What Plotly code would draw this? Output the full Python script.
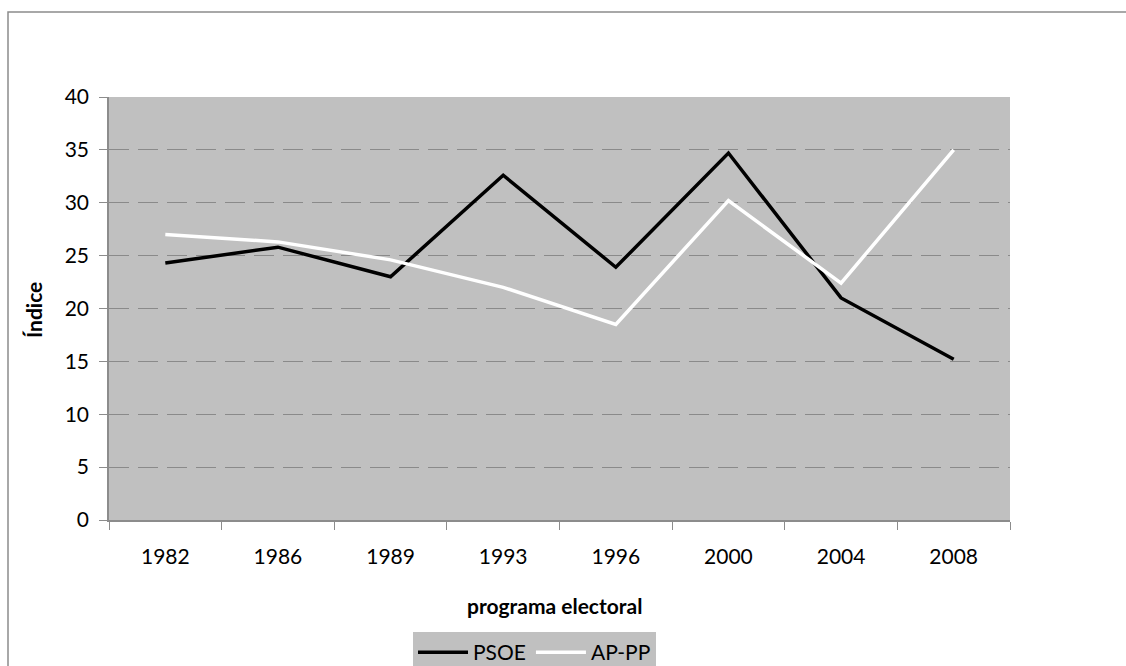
import plotly.graph_objects as go

years = ["1982", "1986", "1989", "1993", "1996", "2000", "2004", "2008"]
psoe = [24.3, 25.8, 23.0, 32.6, 23.9, 34.7, 21.0, 15.2]
ap_pp = [27.0, 26.3, 24.6, 22.0, 18.5, 30.2, 22.4, 35.0]
y_ticks = [0, 5, 10, 15, 20, 25, 30, 35, 40]

FONT = "Lato, 'Open Sans', 'DejaVu Sans', sans-serif"
W, H = 1126, 666
L, R, T, B = 109, 116, 97, 146
pw, ph = W - L - R, H - T - B


def px_x(x):
    return (x - L) / pw


def px_y(y):
    return (H - B - y) / ph


fig = go.Figure()
fig.add_trace(go.Scatter(x=years, y=psoe, mode="lines", name="PSOE",
                         line=dict(color="black", width=3.5)))
fig.add_trace(go.Scatter(x=years, y=ap_pp, mode="lines", name="AP-PP",
                         line=dict(color="white", width=3.5)))

fig.update_layout(
    width=W, height=H,
    margin=dict(l=L, r=R, t=T, b=B, autoexpand=False),
    paper_bgcolor="white",
    plot_bgcolor="#c0c0c0",
    font=dict(family=FONT, size=21, color="black"),
    showlegend=True,
    legend=dict(orientation="h", x=px_x(534.5), xanchor="center",
                y=px_y(632), yanchor="top", bgcolor="#c0c0c0",
                font=dict(size=21), itemwidth=50, traceorder="normal",
                borderwidth=0),
)
fig.update_xaxes(
    type="category", showgrid=False, showline=True, linecolor="#8c8c8c",
    linewidth=1.5, ticks="outside", tickson="boundaries", ticklen=8,
    tickcolor="#8c8c8c", tickwidth=1, tickfont=dict(size=21), zeroline=False,
    range=[-0.5, 7.5], ticklabelstandoff=17,
)
fig.update_yaxes(
    range=[0, 40], tickvals=y_ticks, showgrid=True, gridcolor="#8a8a8a",
    gridwidth=1, griddash="20px,9px", showline=True, linecolor="#8c8c8c",
    linewidth=1.5, ticks="outside", ticklen=8, tickcolor="#8c8c8c",
    tickwidth=1, tickfont=dict(size=21), zeroline=False, ticklabelstandoff=6,
)

fig.add_annotation(text="<b>programa electoral</b>", xref="paper", yref="paper",
                   x=px_x(554), y=px_y(605), xanchor="center", yanchor="middle",
                   showarrow=False, font=dict(size=21, family=FONT))
fig.add_annotation(text="<b>Índice</b>", xref="paper", yref="paper",
                   x=px_x(33), y=px_y(310), xanchor="center", yanchor="middle",
                   textangle=-90, showarrow=False, font=dict(size=21, family=FONT))

fig.add_shape(type="rect", xref="paper", yref="paper",
              x0=px_x(8), x1=px_x(1140), y0=px_y(700), y1=px_y(12),
              line=dict(color="#8c8c8c", width=1.5), fillcolor="rgba(0,0,0,0)",
              layer="below")

fig.write_html("out.html")
